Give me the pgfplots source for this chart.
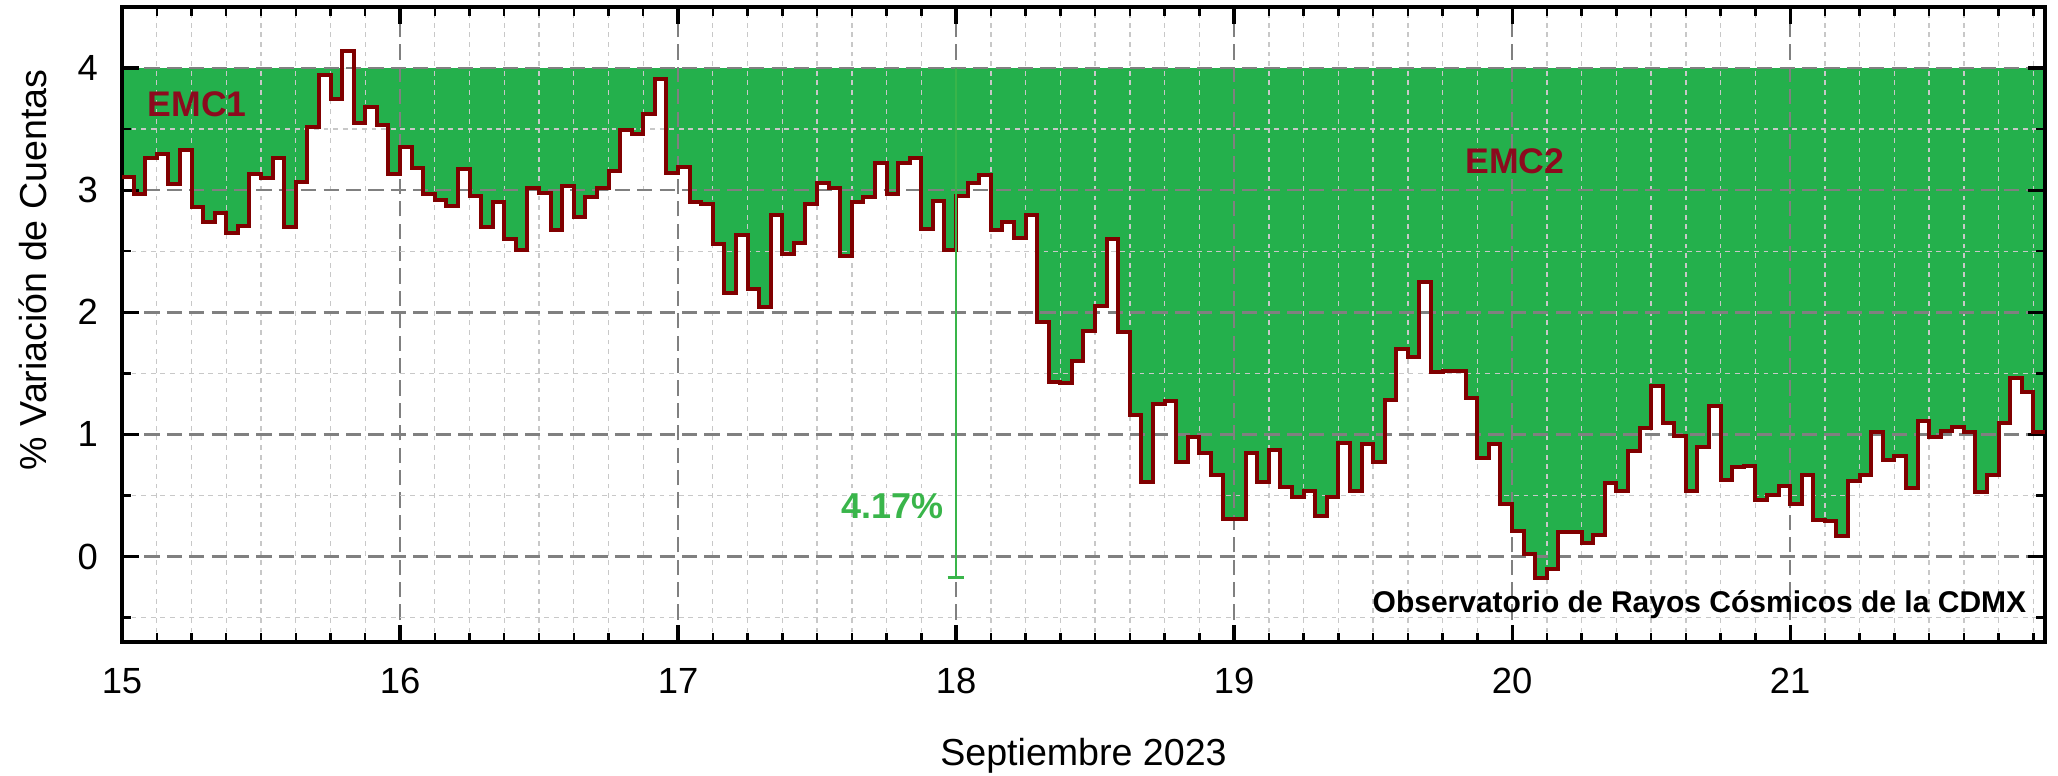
\documentclass[border=0pt]{standalone}
\usepackage{fontspec}
\setmainfont{Liberation Sans}
\usepackage{pgfplots}
\pgfplotsset{compat=1.18}
\usepackage{pgfplotstable}
\usepgfplotslibrary{fillbetween}

\definecolor{fillgreen}{RGB}{36,176,76}
\definecolor{notegreen}{RGB}{57,181,74}
\definecolor{stepred}{RGB}{128,0,0}
\definecolor{labelred}{RGB}{140,10,30}
\definecolor{gridmajor}{RGB}{128,128,128}
\definecolor{gridminor}{RGB}{200,200,200}

% hourly bins from 15 Sep 00h (h = hours since start)
\pgfplotstableread{
h v
0 3.11
1 2.97
2 3.26
3 3.30
4 3.05
5 3.33
6 2.86
7 2.74
8 2.81
9 2.65
10 2.71
11 3.13
12 3.10
13 3.26
14 2.70
15 3.07
16 3.52
17 3.94
18 3.75
19 4.14
20 3.55
21 3.68
22 3.53
23 3.13
24 3.35
25 3.18
26 2.97
27 2.92
28 2.87
29 3.17
30 2.95
31 2.70
32 2.90
33 2.60
34 2.51
35 3.02
36 2.98
37 2.67
38 3.03
39 2.78
40 2.94
41 3.02
42 3.16
43 3.49
44 3.46
45 3.62
46 3.91
47 3.14
48 3.19
49 2.90
50 2.89
51 2.56
52 2.16
53 2.63
54 2.19
55 2.04
56 2.80
57 2.48
58 2.57
59 2.89
60 3.06
61 3.02
62 2.46
63 2.90
64 2.94
65 3.22
66 2.97
67 3.22
68 3.26
69 2.68
70 2.91
71 2.51
72 2.95
73 3.06
74 3.12
75 2.67
76 2.74
77 2.61
78 2.80
79 1.92
80 1.43
81 1.42
82 1.60
83 1.85
84 2.05
85 2.60
86 1.84
87 1.16
88 0.61
89 1.25
90 1.27
91 0.77
92 0.98
93 0.85
94 0.67
95 0.31
96 0.31
97 0.85
98 0.61
99 0.87
100 0.57
101 0.49
102 0.54
103 0.33
104 0.49
105 0.93
106 0.54
107 0.92
108 0.77
109 1.28
110 1.70
111 1.63
112 2.25
113 1.51
114 1.52
115 1.52
116 1.30
117 0.81
118 0.92
119 0.43
120 0.21
121 0.02
122 -0.18
123 -0.10
124 0.20
125 0.20
126 0.11
127 0.18
128 0.60
129 0.54
130 0.86
131 1.05
132 1.40
133 1.09
134 0.99
135 0.54
136 0.90
137 1.23
138 0.63
139 0.73
140 0.74
141 0.46
142 0.50
143 0.58
144 0.43
145 0.67
146 0.30
147 0.29
148 0.17
149 0.62
150 0.67
151 1.02
152 0.79
153 0.82
154 0.56
155 1.11
156 0.98
157 1.03
158 1.06
159 1.02
160 0.53
161 0.67
162 1.09
163 1.46
164 1.35
165 1.02
166 1.02
}\emc

\begin{document}
\begin{tikzpicture}
\begin{axis}[
    name=ax,
    set layers,
    scale only axis,
    width=480.75pt, height=158.75pt,
    xmin=15, xmax=21.9167,
    ymin=-0.7, ymax=4.5,
    xtick={15,...,21},
    ytick={0,...,4},
    minor xtick={15.125,15.25,15.375,15.5,15.625,15.75,15.875,
                 16.125,16.25,16.375,16.5,16.625,16.75,16.875,
                 17.125,17.25,17.375,17.5,17.625,17.75,17.875,
                 18.125,18.25,18.375,18.5,18.625,18.75,18.875,
                 19.125,19.25,19.375,19.5,19.625,19.75,19.875,
                 20.125,20.25,20.375,20.5,20.625,20.75,20.875,
                 21.125,21.25,21.375,21.5,21.625,21.75,21.875},
    minor ytick={-0.5,0.5,1.5,2.5,3.5},
    grid=both,
    major grid style={gridmajor, line width=0.65pt, dash pattern=on 3.8pt off 1.8pt},
    minor grid style={gridminor, line width=0.35pt, dash pattern=on 1.2pt off 1.2pt},
    axis line style={line width=0.8pt, black},
    major tick style={line width=0.8pt, black},
    minor tick style={line width=0.6pt, black},
    major tick length=4.3pt, minor tick length=2.2pt,
    /pgf/number format/assume math mode=true,
    tick label style={font=\fontsize{9.1}{11}\selectfont},
    xticklabel style={yshift=-3pt},
    yticklabel style={xshift=-2.5pt},
    label style={font=\fontsize{9.4}{11}\selectfont},
    xlabel={Septiembre 2023},
    xlabel style={at={(axis description cs:0.5,-0.1953)}, anchor=base},
    ylabel={\% Variación de Cuentas},
    ylabel style={at={(axis description cs:-0.0463,0.586)}, anchor=center},
]

\addplot[draw=none, name path=top, forget plot] coordinates {(15,4) (21.9167,4)};
\addplot[draw=none, name path=cap, const plot, forget plot]
    table[x expr=15+\thisrow{h}/24, y expr={min(\thisrow{v},4)}] {\emc};
\addplot[fill=fillgreen, draw=none, forget plot]
    fill between[of=top and cap, on layer=axis background];

\addplot[stepred, line width=1pt, const plot]
    table[x expr=15+\thisrow{h}/24, y=v] {\emc};

% 4.17% bar
\addplot[notegreen, line width=0.7pt] coordinates {(18,4) (18,-0.17)};
\addplot[notegreen, line width=0.7pt] coordinates {(17.97,-0.17) (18.03,-0.17)};

\node[font=\fontsize{8.9}{10}\selectfont\bfseries, text=labelred] at (axis cs:15.27,3.70) {EMC1};
\node[font=\fontsize{8.9}{10}\selectfont\bfseries, text=labelred] at (axis cs:20.01,3.24) {EMC2};
\node[font=\fontsize{9}{10}\selectfont\bfseries, text=notegreen] at (axis cs:17.77,0.41) {4.17\%};
\node[font=\fontsize{7.5}{9}\selectfont\bfseries, anchor=base east, inner sep=0pt]
    at (axis cs:21.852,-0.455) {Observatorio de Rayos Cósmicos de la CDMX};
\end{axis}
\pgfresetboundingbox
\path ([shift={(-30.5pt,-33.5pt)}]ax.south west) rectangle ([shift={(3.25pt,1.75pt)}]ax.north east);
\end{tikzpicture}
\end{document}
